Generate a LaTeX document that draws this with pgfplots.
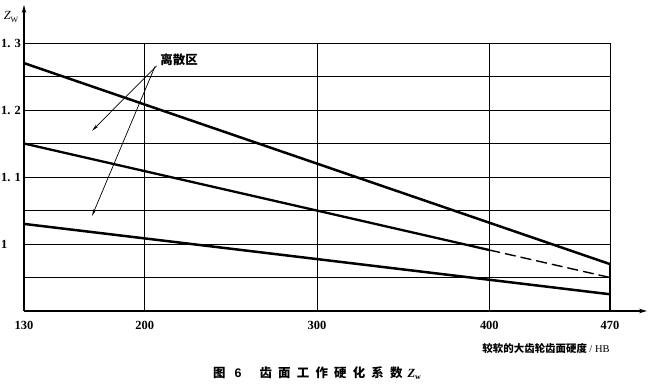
\documentclass[border=0pt]{standalone}
\usepackage{pgfplots}
\pgfplotsset{compat=1.18}
\usetikzlibrary{arrows.meta}
\usepackage{fontspec}
\setmainfont{Liberation Serif}
\newfontfamily\cjk{Noto Sans CJK SC}
\newfontfamily\hei{Liberation Sans}
\begin{document}
\begin{tikzpicture}
\path[use as bounding box] (0,0) rectangle (650bp,-387bp);
\begin{axis}[
  at={(24bp,-311bp)}, anchor=south west,
  scale only axis, width=586bp, height=268bp,
  xmin=130, xmax=470, ymin=0.9, ymax=1.3,
  axis lines=left, clip=false,
  axis line style={line width=1.4bp, -{Stealth[length=8bp,width=4.5bp]}},
  x axis line style={shorten >=-37bp},
  y axis line style={shorten >=-38bp},
  xtick={130,200,300,400,470},
  xticklabels={130,200,300,400,470},
  ytick={0.9,0.95,1.0,1.05,1.1,1.15,1.2,1.25,1.3},
  yticklabels={,,1,,1. 1,,1. 2,,1. 3},
  major tick length=0pt,
  grid=major,
  major grid style={black, line width=1bp},
  xticklabel style={font=\fontsize{12.5}{13}\selectfont\bfseries, anchor=center, inner sep=0pt, yshift=-14bp},
  yticklabel style={font=\fontsize{12.5}{13}\selectfont\bfseries, anchor=west, inner sep=0pt, xshift=-23bp},
]
% upper boundary line
\addplot[black, line width=2.5bp] coordinates {(130,1.270) (470,0.970)};
% middle line: solid to 400, dashed beyond
\addplot[black, line width=2.3bp] coordinates {(130,1.150) (400,0.991)};
\addplot[black, line width=1.4bp, dash pattern=on 11bp off 5bp] coordinates {(400,0.991) (470,0.950)};
% lower line
\addplot[black, line width=2.5bp] coordinates {(130,1.030) (470,0.925)};
% thick vertical end at 470
\addplot[black, line width=2.7bp] coordinates {(470,0.970) (470,0.900)};
% annotation arrows
\draw[line width=0.7bp, -{Stealth[length=7bp,width=3bp]}] (axis cs:207,1.266) -- (axis cs:169.5,1.169);
\draw[line width=0.7bp, -{Stealth[length=7bp,width=3bp]}] (axis cs:206,1.265) -- (axis cs:169.5,1.042);
\node[font=\cjk\bfseries\fontsize{12.5}{13}\selectfont] at (axis cs:220,1.275) {离散区};
\end{axis}
\node at (11bp,-17bp) {\fontsize{12.5}{12}\selectfont\itshape Z\raisebox{-2.5bp}{\fontsize{8}{8}\selectfont\upshape W}};
\node[font=\cjk\bfseries\fontsize{10.5}{11}\selectfont] at (546bp,-348bp) {较软的大齿轮齿面硬度\ {\rmfamily\mdseries / HB}};
\node[anchor=west, inner sep=0pt] at (213bp,-373bp) {\fontsize{12.5}{12}\selectfont\cjk\bfseries 图\hspace{9bp}{\hei\bfseries 6}\hspace{18bp}齿\hspace{6.2bp}面\hspace{6.2bp}工\hspace{6.2bp}作\hspace{6.2bp}硬\hspace{6.2bp}化\hspace{6.2bp}系\hspace{6.2bp}数\hspace{5bp}{\rmfamily\bfseries\itshape Z\raisebox{-2bp}{\fontsize{8}{8}\selectfont\upshape w}}};
\end{tikzpicture}
\end{document}
